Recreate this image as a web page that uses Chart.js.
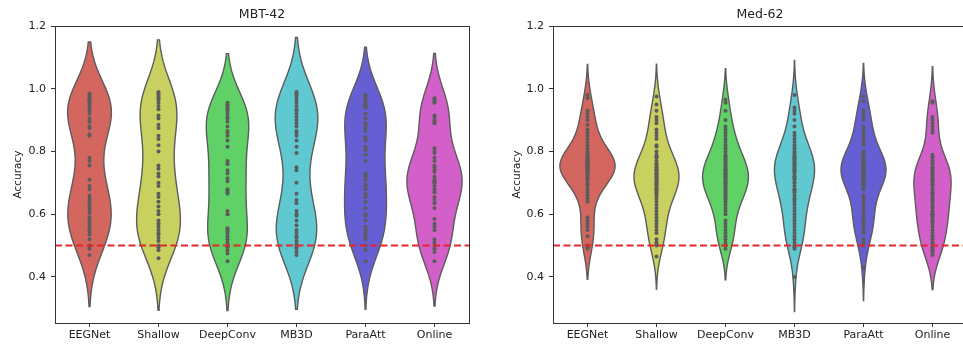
<!DOCTYPE html>
<html>
<head>
<meta charset="utf-8">
<script src="https://cdn.jsdelivr.net/npm/chart.js@4.4.1/dist/chart.umd.min.js"></script>
<style>
  html, body { margin:0; padding:0; background:#fff; overflow:hidden; }
  #wrap { position:relative; width:963px; height:350px; overflow:hidden; }
  canvas { position:absolute; top:0; }
  #mbt { left:0; }
  #med { left:480px; }
</style>
</head>
<body>
<div id="wrap">
  <canvas id="mbt" width="480" height="350"></canvas>
  <canvas id="med" width="500" height="350"></canvas>
</div>
<script>
// ── Data ──────────────────────────────────────────────────
const METHODS = ["EEGNet","Shallow","DeepConv","MB3D","ParaAtt","Online"];
const Y_TICKS = [0.4, 0.6, 0.8, 1.0, 1.2];
const CHANCE  = 0.5;

// MBT-42 : one accuracy per subject
const MBT_EEGNET   = [0.985,0.98,0.975,0.97,0.965,0.96,0.95,0.94,0.935,0.93,0.92,0.905,0.895,0.88,0.875,0.855,0.85,
                      0.78,0.77,0.755,0.71,0.69,0.68,0.66,0.65,0.64,0.635,0.625,0.615,0.605,0.59,0.58,0.57,0.56,0.55,0.545,0.535,0.52,0.50,0.49,0.47,0.96];
const MBT_SHALLOW  = [0.99,0.985,0.98,0.975,0.97,0.965,0.955,0.945,0.935,0.915,0.905,0.885,0.875,0.85,0.84,0.82,0.80,
                      0.755,0.745,0.73,0.72,0.70,0.69,0.665,0.655,0.64,0.625,0.61,0.60,0.58,0.57,0.57,0.56,0.55,0.54,0.535,0.525,0.515,0.50,0.495,0.485,0.46];
const MBT_DEEPCONV = [0.955,0.95,0.945,0.94,0.935,0.93,0.92,0.91,0.905,0.895,0.88,0.865,0.86,0.85,0.835,0.815,0.77,0.76,0.76,
                      0.74,0.73,0.715,0.705,0.68,0.675,0.67,0.665,0.61,0.60,0.60,0.555,0.55,0.545,0.54,0.53,0.52,0.51,0.50,0.495,0.485,0.475,0.45];
const MBT_MB3D     = [0.99,0.985,0.98,0.975,0.965,0.955,0.945,0.935,0.93,0.92,0.91,0.90,0.89,0.88,0.865,0.86,0.85,0.835,0.815,0.795,
                      0.75,0.74,0.70,0.665,0.645,0.635,0.61,0.60,0.595,0.58,0.565,0.55,0.54,0.53,0.525,0.515,0.505,0.50,0.495,0.49,0.48,0.47];
const MBT_PARAATT  = [0.98,0.975,0.965,0.96,0.95,0.945,0.94,0.92,0.905,0.89,0.88,0.875,0.865,0.845,0.835,0.815,0.805,0.79,0.77,
                      0.73,0.73,0.72,0.71,0.695,0.69,0.68,0.665,0.655,0.64,0.62,0.60,0.595,0.58,0.56,0.55,0.545,0.535,0.53,0.52,0.50,0.485,0.45];
const MBT_ONLINE   = [0.97,0.965,0.96,0.955,0.915,0.91,0.90,0.895,0.89,0.81,0.80,0.795,0.78,0.77,0.755,0.75,0.74,0.735,0.72,0.71,
                      0.705,0.70,0.70,0.69,0.68,0.67,0.67,0.655,0.645,0.635,0.62,0.585,0.57,0.56,0.55,0.52,0.51,0.50,0.49,0.49,0.48,0.45];

// Med-62
const MED_EEGNET   = [0.98,0.97,0.93,0.92,0.91,0.90,0.885,0.87,0.86,0.85,0.84,0.83,0.82,0.81,0.80,0.795,0.79,0.785,0.78,0.78,
                      0.775,0.77,0.77,0.765,0.765,0.76,0.76,0.76,0.76,0.755,0.755,0.75,0.75,0.75,0.745,0.745,0.74,0.74,0.735,0.73,0.73,
                      0.725,0.72,0.715,0.71,0.70,0.695,0.69,0.68,0.67,0.66,0.65,0.64,0.59,0.58,0.57,0.56,0.55,0.53,0.50,0.495,0.49];
const MED_SHALLOW  = [0.975,0.95,0.93,0.91,0.90,0.89,0.87,0.86,0.85,0.84,0.82,0.815,0.80,0.79,0.785,0.78,0.78,0.77,0.76,0.76,
                      0.755,0.75,0.745,0.74,0.74,0.735,0.73,0.73,0.725,0.72,0.72,0.715,0.71,0.705,0.70,0.70,0.695,0.69,0.685,0.68,
                      0.68,0.675,0.67,0.665,0.66,0.65,0.64,0.63,0.62,0.61,0.60,0.59,0.58,0.57,0.56,0.55,0.54,0.52,0.51,0.505,0.50,0.465];
const MED_DEEPCONV = [0.965,0.955,0.93,0.90,0.88,0.87,0.86,0.85,0.84,0.83,0.82,0.81,0.80,0.79,0.785,0.78,0.775,0.77,0.765,0.76,
                      0.755,0.75,0.745,0.74,0.74,0.735,0.73,0.73,0.725,0.72,0.72,0.715,0.71,0.705,0.70,0.70,0.695,0.69,0.685,0.68,
                      0.675,0.67,0.665,0.66,0.655,0.65,0.645,0.64,0.63,0.62,0.61,0.60,0.58,0.57,0.56,0.55,0.54,0.53,0.52,0.51,0.50,0.49];
const MED_MB3D     = [0.98,0.94,0.93,0.92,0.90,0.88,0.86,0.85,0.84,0.83,0.82,0.81,0.80,0.795,0.79,0.785,0.78,0.78,0.775,0.77,
                      0.765,0.76,0.76,0.755,0.75,0.745,0.74,0.74,0.735,0.73,0.72,0.72,0.715,0.71,0.70,0.70,0.69,0.68,0.68,0.675,
                      0.67,0.66,0.65,0.645,0.64,0.63,0.62,0.61,0.60,0.59,0.58,0.57,0.56,0.55,0.54,0.53,0.52,0.51,0.50,0.495,0.49,0.40];
const MED_PARAATT  = [0.975,0.96,0.93,0.92,0.91,0.90,0.88,0.87,0.86,0.85,0.84,0.83,0.82,0.80,0.79,0.785,0.78,0.78,0.775,0.77,
                      0.77,0.765,0.76,0.76,0.755,0.75,0.75,0.745,0.74,0.74,0.735,0.73,0.73,0.725,0.72,0.72,0.715,0.71,0.705,0.70,
                      0.70,0.695,0.69,0.68,0.66,0.65,0.64,0.63,0.62,0.61,0.60,0.59,0.58,0.575,0.57,0.56,0.55,0.54,0.52,0.51,0.50,0.43];
const MED_ONLINE   = [0.96,0.955,0.91,0.90,0.89,0.88,0.87,0.86,0.79,0.785,0.78,0.77,0.77,0.76,0.75,0.75,0.745,0.74,0.735,0.73,0.73,
                      0.725,0.72,0.715,0.71,0.71,0.705,0.70,0.695,0.69,0.68,0.67,0.665,0.66,0.65,0.645,0.64,0.63,0.625,0.62,0.61,0.605,
                      0.60,0.60,0.595,0.59,0.58,0.575,0.57,0.56,0.55,0.54,0.53,0.52,0.51,0.505,0.50,0.495,0.49,0.485,0.48,0.47];

const MBT_GROUPS = [MBT_EEGNET, MBT_SHALLOW, MBT_DEEPCONV, MBT_MB3D, MBT_PARAATT, MBT_ONLINE];
const MED_GROUPS = [MED_EEGNET, MED_SHALLOW, MED_DEEPCONV, MED_MB3D, MED_PARAATT, MED_ONLINE];

// ── Look ─────────────────────────────────────────────────
const COLORS = ["#d3665f","#c8d05f","#5fd166","#5fc8d1","#665fd3","#d35fc8"];
const LINE   = "#5c5c5c";
const FRAME  = "#333333";
const FONT   = "'DejaVu Sans', sans-serif";

// gaussian KDE, Scott's rule, cut = 2 (seaborn defaults)
function kde(vals) {
  const n = vals.length;
  const mean = vals.reduce((a, b) => a + b, 0) / n;
  const sd = Math.sqrt(vals.reduce((a, b) => a + (b - mean) ** 2, 0) / (n - 1));
  const bw = sd * Math.pow(n, -0.2);
  const lo = Math.min(...vals) - 2 * bw, hi = Math.max(...vals) + 2 * bw;
  const ys = [], ds = [];
  for (let k = 0; k < 100; k++) {
    const yv = lo + (hi - lo) * k / 99;
    let s = 0;
    for (const v of vals) { const z = (yv - v) / bw; s += Math.exp(-0.5 * z * z); }
    ys.push(yv);
    ds.push(s / (n * bw * Math.sqrt(2 * Math.PI)));
  }
  return { ys, ds };
}

function violinPlugin(groups) {
  return {
    id: "violins",
    beforeDatasetsDraw(chart) {
      const { ctx, scales: { x, y } } = chart;
      const shapes = groups.map(kde);
      const maxD = Math.max(...shapes.map(s => Math.max(...s.ds)));
      ctx.save();
      shapes.forEach((s, i) => {
        ctx.beginPath();
        s.ys.forEach((v, k) => {
          const px = x.getPixelForValue(i - s.ds[k] / maxD * 0.4), py = y.getPixelForValue(v);
          k ? ctx.lineTo(px, py) : ctx.moveTo(px, py);
        });
        for (let k = s.ys.length - 1; k >= 0; k--)
          ctx.lineTo(x.getPixelForValue(i + s.ds[k] / maxD * 0.4), y.getPixelForValue(s.ys[k]));
        ctx.closePath();
        ctx.fillStyle = COLORS[i];
        ctx.fill();
        ctx.lineWidth = 1.4;
        ctx.strokeStyle = LINE;
        ctx.stroke();
      });
      ctx.restore();
    },
    afterDatasetsDraw(chart) {
      const { ctx, chartArea: a, scales: { y } } = chart;
      const py = y.getPixelForValue(CHANCE);
      ctx.save();
      ctx.strokeStyle = "#e3262b";
      ctx.lineWidth = 2;
      ctx.setLineDash([7, 3.5]);
      ctx.beginPath(); ctx.moveTo(a.left, py); ctx.lineTo(a.right, py); ctx.stroke();
      ctx.setLineDash([]);
      ctx.strokeStyle = FRAME;
      ctx.lineWidth = 1;
      ctx.strokeRect(a.left + 0.5, a.top + 0.5, a.right - a.left, a.bottom - a.top);
      ctx.restore();
    }
  };
}

function makeChart(id, title, groups, yWidth, yTitlePad, padRight) {
  return new Chart(document.getElementById(id), {
    type: "scatter",
    data: {
      labels: METHODS,
      datasets: groups.map((g, i) => ({
        data: g.map(v => ({ x: METHODS[i], y: v })),
        pointRadius: 2, pointHoverRadius: 2, pointBorderWidth: 0,
        pointBackgroundColor: LINE
      }))
    },
    options: {
      responsive: false, animation: false, events: [],
      layout: { padding: { left: 0, right: padRight, top: 0, bottom: 0 } },
      plugins: {
        legend: { display: false }, tooltip: { enabled: false },
        title: { display: true, text: title, fullSize: false, color: "#222",
                 font: { family: FONT, size: 12.5, weight: "normal" }, padding: { top: 7, bottom: 4 } }
      },
      scales: {
        x: {
          type: "category", labels: METHODS, offset: true,
          grid: { drawOnChartArea: false, tickLength: 4, color: FRAME, offset: false },
          border: { display: false },
          ticks: { color: "#222", font: { family: FONT, size: 11 }, padding: 2, maxRotation: 0 },
          afterFit(s) { s.height = 27; }
        },
        y: {
          min: 0.2533, max: 1.2,
          afterBuildTicks(s) { s.ticks = Y_TICKS.map(v => ({ value: v })); },
          grid: { drawOnChartArea: false, tickLength: 4, color: FRAME },
          border: { display: false },
          ticks: { color: "#222", font: { family: FONT, size: 11 }, padding: 5, callback: v => v.toFixed(1) },
          title: { display: true, text: "Accuracy", color: "#222", font: { family: FONT, size: 10.5 },
                   padding: { top: yTitlePad, bottom: 0 } },
          afterFit(s) { s.width = yWidth; }
        }
      }
    },
    plugins: [violinPlugin(groups)]
  });
}

makeChart("mbt", "MBT-42", MBT_GROUPS, 55, 11.7, 11);
makeChart("med", "Med-62", MED_GROUPS, 73, 30.7, 13);
</script>
</body>
</html>
